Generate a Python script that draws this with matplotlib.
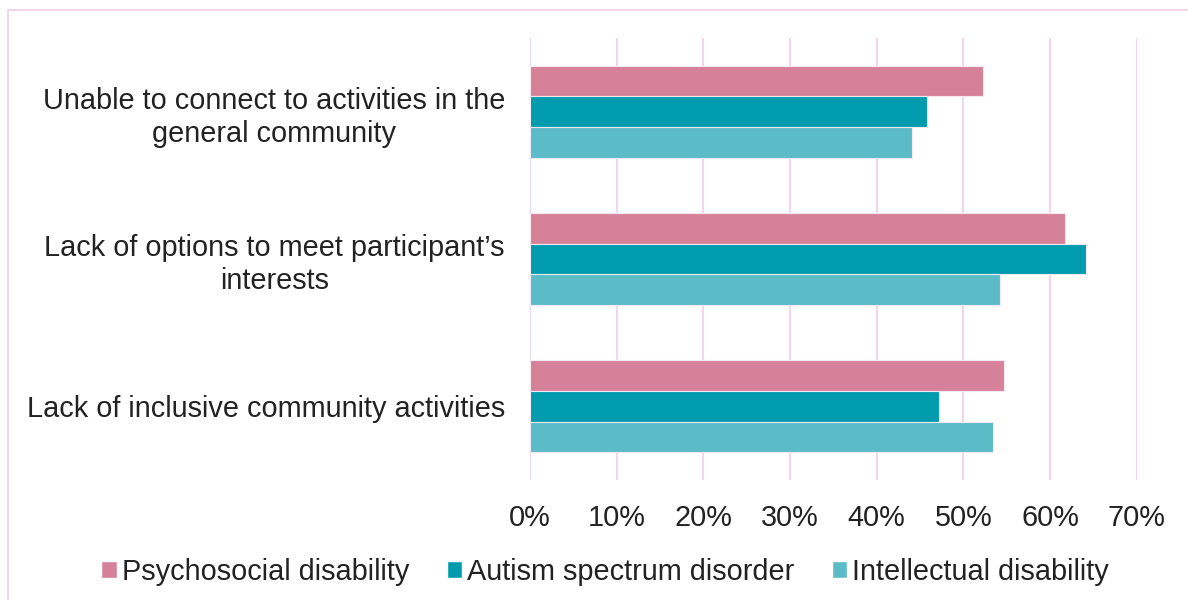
import matplotlib
matplotlib.use("Agg")
import matplotlib.pyplot as plt
import numpy as np
from matplotlib.patches import Rectangle, Patch

plt.rcParams['font.family'] = ['Liberation Sans', 'DejaVu Sans']

categories = ["Unable to connect to activities in the\ngeneral community",
              "Lack of options to meet participant\u2019s\ninterests",
              "Lack of inclusive community activities"]
series_names = ["Psychosocial disability", "Autism spectrum disorder", "Intellectual disability"]
psychosocial = [52.3, 61.7, 54.7]
autism = [45.8, 64.2, 47.2]
intellectual = [44.1, 54.2, 53.4]
colors = ["#D6819A", "#009CAD", "#5BBCC8"]
xticks = [0, 10, 20, 30, 40, 50, 60, 70]

fig = plt.figure(figsize=(11.88, 6.0), dpi=100)
ax = fig.add_axes([530/1188, 1-480/600, (1136.7-530)/1188, (480-38)/600])

n = len(categories)
y = np.arange(n)
bh = 0.208
data = [psychosocial, autism, intellectual]
for i, (vals, c) in enumerate(zip(data, colors)):
    ax.barh(y + (i - 1) * bh, vals, height=bh, color=c, edgecolor='#F4E8F0', linewidth=0.8, zorder=3)

fs = 20.8
ax.set_xlim(0, 70)
ax.set_ylim(n - 0.5, -0.5)
ax.set_xticks(xticks)
ax.set_xticklabels([f"{t}%" for t in xticks], fontsize=fs, color='#222222')
ax.set_yticks(y)
ax.set_yticklabels(categories, fontsize=fs, color='#222222', multialignment='center', linespacing=1.22)
ax.tick_params(axis='both', length=0)
ax.tick_params(axis='x', pad=17)
ax.tick_params(axis='y', pad=18)
ax.grid(axis='x', color='#F2D6EE', linewidth=1.5, zorder=0)
for s in ax.spines.values():
    s.set_visible(False)

handles = [Patch(facecolor=c, edgecolor='white', label=l) for c, l in zip(colors, series_names)]
fig.legend(handles=handles, loc='center', bbox_to_anchor=(605/1188, 1-572/600), ncol=3, frameon=False,
           fontsize=fs, handlelength=0.55, handleheight=0.55, handletextpad=0.15, columnspacing=1.3,
           labelcolor='#222222', borderaxespad=0, borderpad=0)

fig.patches.append(Rectangle((8/1188, -0.1), 1.2, 1-10/600+0.1, transform=fig.transFigure,
                             fill=False, edgecolor='#F2D6EE', linewidth=1.5))

fig.savefig("out.png", dpi=100, facecolor='white')
